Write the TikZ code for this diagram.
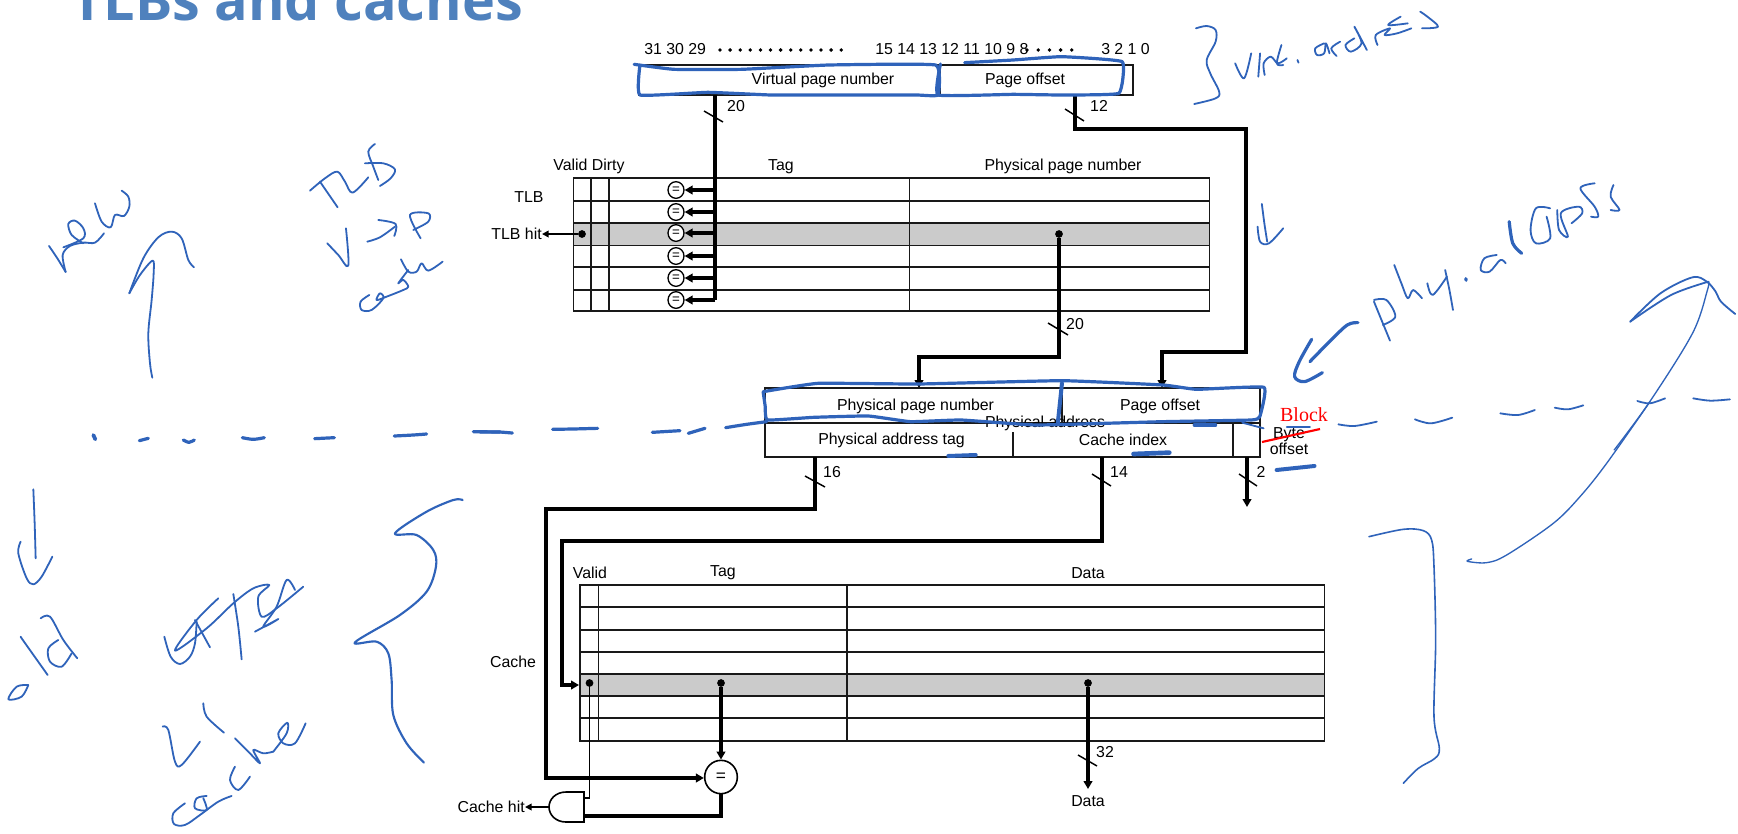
\documentclass[tikz,border=0pt]{standalone}
\usepackage{fontspec}
\setmainfont{Liberation Sans}
\newfontfamily\serifblock{Liberation Serif}
\newfontfamily\titlefont{Open Sans}
\usetikzlibrary{arrows.meta,shapes.geometric}
\definecolor{inkblue}{HTML}{2F63BA}
\definecolor{titleblue}{HTML}{4F81BD}
\definecolor{rowgray}{HTML}{CBCBCB}
\newcommand{\inkc}[2][inkline]{\draw[#1] plot[smooth,tension=0.55] coordinates {#2};}
\newcommand{\inkp}[2][inkthick]{\draw[#1] plot[smooth,tension=0.2] coordinates {#2};}
\tikzset{
  wire/.style={line width=2.7pt,line join=miter},
  wirearrow/.style={wire,-{Triangle[length=6pt,width=6.5pt]}},
  thinwire/.style={line width=1pt},
  tabline/.style={line width=1.3pt,draw=black!90},
  slash/.style={line width=1.1pt},
  lab/.style={font=\fontsize{11.9}{12}\selectfont,inner sep=0pt,text=black},
  cmp/.style={ellipse,draw=black,line width=1pt,fill=white,minimum width=12pt,minimum height=12.5pt,inner sep=0pt,font=\fontsize{10}{10}\selectfont},
  jdot/.style={circle,fill=black,inner sep=0pt,minimum size=5.8pt},
  inkline/.style={draw=inkblue,line width=1.35pt,line cap=round,line join=round},
  inkthick/.style={draw=inkblue,line width=2.4pt,line cap=round,line join=round},
  inkthin/.style={draw=inkblue,line width=1pt,line cap=round,line join=round},
}
\begin{document}
\begin{tikzpicture}[x=0.75pt,y=-0.75pt]
\path[use as bounding box,clip] (0,0) rectangle (1738,833);
\fill[white] (0,0) rectangle (1738,833);
% title
\node[anchor=base west,inner sep=0pt,text=titleblue,font=\titlefont\bfseries\fontsize{41.8}{50}\selectfont] (title) at (71,20) {TLBs and caches};
% gray rows
\fill[rowgray] (573.5,223) rectangle (1209.5,245.5);
\fill[rowgray] (580,674) rectangle (1324.5,696);
% virtual address register
\draw[tabline] (639,65) rectangle (1133,95);
\draw[tabline] (940.5,65) -- (940.5,95);
\node[lab] (vpn) at (823,80) {Virtual page number};
\node[lab] (vpo) at (1025,80) {Page offset};
\node[lab,anchor=west] (bitsa) at (644,49) {31 30 29};
\node[lab,anchor=west] (bitsb) at (875,49) {15 14 13 12 11 10 9 8};
\node[lab,anchor=west] (bitsc) at (1101,49) {3 2 1 0};
\foreach \i in {0,...,12} \fill (720+\i*10.1,50) circle (1.9);
\foreach \i in {0,...,4} \fill (1027+\i*11.2,50) circle (1.9);
% TLB
\draw[tabline] (573.5,178) rectangle (1209.5,311);
\foreach \y in {201,223,245.5,267,290} \draw[tabline] (573.5,\y) -- (1209.5,\y);
\foreach \x in {591,609,909.5} \draw[tabline] (\x,178) -- (\x,311);
\node[lab] (vdh) at (589,166) {Valid Dirty};
\node[lab] (tagh) at (781,167) {Tag};
\node[lab] (ppnh) at (1063,166) {Physical page number};
\node[lab] (tlbl) at (529,197) {TLB};
\node[lab,anchor=east] (tlbhit) at (542,234) {TLB hit};
\node[jdot] (tlbdot) at (582,234) {};
\draw[wirearrow,line width=1.4pt,-{Triangle[length=5pt,width=5pt]}] (tlbdot) -- (tlbhit.east);
\coordinate (vtop) at (715,95);
\coordinate (vbot) at (715,300);
\draw[wire] (vtop) -- (vbot);
\foreach \n/\y in {a/190,b/212,c/233,d/256,e/278,f/300}{
  \node[cmp] (c\n) at (676,\y) {=};
  \coordinate (t\n) at (715,\y);
  \draw[wirearrow] (t\n) -- (c\n);
}
\draw[slash] (704,111) -- (723,122);
\node[lab] (n20a) at (736,106) {20};
\node[jdot] (ppndot) at (1059,234) {};
\coordinate (p1) at (1059,357);
\coordinate (p2) at (919,357);
\coordinate (p3) at (919,388);
\draw[wirearrow] (ppndot) -- (p1) -- (p2) -- (p3);
\draw[slash] (1048,323) -- (1068,335);
\node[lab] (n20b) at (1075,324) {20};
\coordinate (o0) at (1075,95);
\coordinate (o1) at (1075,129);
\coordinate (o2) at (1246,129);
\coordinate (o3) at (1246,352);
\coordinate (o4) at (1162,352);
\coordinate (o5) at (1162,388);
\draw[wirearrow] (o0) -- (o1) -- (o2) -- (o3) -- (o4) -- (o5);
\draw[slash] (1065,109) -- (1084,121);
\node[lab] (n12) at (1099,106) {12};
% physical address register
\draw[tabline] (765,388) rectangle (1260,457);
\draw[tabline] (765,423) -- (1260,423);
\draw[tabline] (1062,388) -- (1062,423);
\draw[tabline] (1013,432) -- (1013,457);
\draw[tabline] (1233,423) -- (1233,457);
\node[lab] (ppn) at (915.5,406) {Physical page number};
\node[lab] (po) at (1160,406) {Page offset};
\node[lab] (pa) at (1045,423) {Physical address};
\node[lab] (pat) at (891.5,440) {Physical address tag};
\node[lab] (ci) at (1123,440) {Cache index};
\node[lab] (byte) at (1289,435) {Byte};
\node[lab] (offs) at (1289,449) {offset};
\node[font=\serifblock\fontsize{15}{16}\selectfont,text=red,inner sep=0pt] (block) at (1304,415) {Block};
\draw[red,line width=1.6pt] (1262,442) -- (1320,429);
% tag wire
\coordinate (g0) at (815,457);
\coordinate (g1) at (815,509);
\coordinate (g2) at (546,509);
\coordinate (g3) at (546,778);
\node[ellipse,draw=black,line width=1.2pt,fill=white,minimum width=24.5pt,minimum height=25pt,inner sep=0pt,font=\fontsize{13}{13}\selectfont] (eq) at (721,777) {=};
\draw[wirearrow] (g0) -- (g1) -- (g2) -- (g3) -- (eq.west|-g3);
\draw[slash] (805,476) -- (825,487);
\node[lab] (n16) at (832,472) {16};
% index wire
\coordinate (h0) at (1102,457);
\coordinate (h1) at (1102,541);
\coordinate (h2) at (562,541);
\coordinate (h3) at (562,685);
\coordinate (h4) at (579,685);
\draw[wirearrow] (h0) -- (h1) -- (h2) -- (h3) -- (h4);
\draw[slash] (1092,474) -- (1111,486);
\node[lab] (n14) at (1119,472) {14};
% block offset wire
\coordinate (k0) at (1247,457);
\coordinate (k1) at (1247,507);
\draw[wirearrow] (k0) -- (k1);
\draw[slash] (1239,474) -- (1257,486);
\node[lab] (n2) at (1261,472) {2};
% cache table
\draw[tabline] (580,585) rectangle (1324.5,741);
\foreach \y in {607,630,652,674,696,718} \draw[tabline,line width=1.5pt] (580,\y) -- (1324.5,\y);
\foreach \x in {598.5,847} \draw[tabline] (\x,585) -- (\x,741);
\node[lab] (vh) at (590,573) {Valid};
\node[lab] (ctag) at (723,573) {Tag};
\node[lab] (dath) at (1088,573) {Data};
\node[lab] (cachel) at (513,662) {Cache};
\node[jdot] (vdot) at (589.5,683) {};
\node[jdot] (tdot) at (721,683) {};
\node[jdot] (ddot) at (1088,683) {};
\coordinate (dout) at (1088,789);
\draw[wirearrow] (tdot) -- (eq.north);
\draw[wirearrow] (ddot) -- (dout);
\draw[slash] (1078,755) -- (1097,766);
\node[lab] (n32) at (1105,752) {32};
\node[lab] (dbot) at (1088,801) {Data};
% AND gate
\coordinate (andtop) at (584,798);
\coordinate (andbot) at (584,816);
\coordinate (andleft) at (549,807);
\draw[line width=1.2pt] (584,792) -- (566,792) .. controls (556,792) and (549,799) .. (andleft) .. controls (549,815) and (556,822) .. (566,822) -- (584,822) -- cycle;
\coordinate (v1) at (589.5,798);
\draw[thinwire] (vdot) -- (v1) -- (andtop);
\coordinate (e1) at (721,816);
\draw[wire] (eq.south) -- (e1) -- (andbot);
\node[lab,anchor=east] (chit) at (525,807) {Cache hit};
\draw[wire,line width=1.7pt,-{Triangle[length=5pt,width=5pt]}] (andleft) -- (chit.east);
% ---- handwriting ----
\begin{scope}[xscale=0.3333,yscale=0.3333]
\inkc{(147,738)(172,775)(197,816)}
\inkc{(197,816)(188,765)(210,738)(250,728)(285,728)(312,700)}
\inkc{(190,742)(250,715)(250,685)(225,662)(205,672)(215,705)(250,730)}
\inkc{(285,610)(305,665)(332,682)(345,645)(372,648)(388,620)(385,590)(365,572)}
\inkc{(457,1133)(450,1090)(445,1000)(455,900)(461,820)(458,782)(420,825)(388,880)}
\inkc{(388,880)(430,775)(475,712)(515,695)(545,715)(565,780)(582,802)}
\inkc{(930,572)(975,535)(1012,515)(1035,545)(1058,578)(1105,532)}
\inkc{(960,545)(1013,622)}
\inkc{(1125,432)(1105,455)(1120,500)(1135,540)}
\inkc{(1095,490)(1150,490)(1185,508)(1172,535)(1140,558)}
\inkc{(982,730)(1015,765)(1045,797)(1038,685)}
\inkc{(1102,725)(1140,712)(1185,680)}
\inkc{(1135,660)(1187,672)(1183,708)}
\inkc{(1262,715)(1230,645)(1285,640)(1285,665)(1240,690)}
\inkc{(1108,885)(1082,905)(1085,930)(1115,930)(1150,895)(1140,880)(1130,900)(1160,890)(1210,870)(1225,860)(1210,840)(1195,850)(1225,810)}
\inkc{(1203,778)(1225,815)(1250,815)(1265,790)(1285,812)(1328,785)}
\end{scope}
\begin{scope}[shift={(0,440)},xscale=0.3333,yscale=0.3333]
\inkc{(100,148)(104,250)(107,355)}
\inkc{(62,305)(55,340)(80,415)(100,433)(125,410)(157,350)}
\inkc{(85,735)(50,740)(25,778)(65,770)(85,735)}
\inkc{(62,590)(72,605)(143,705)}
\inkc{(122,535)(150,530)(190,600)(232,655)}
\inkc{(175,600)(145,625)(150,665)(185,680)(215,640)}
\inkc{(493,590)(512,650)(540,672)(570,650)(585,610)(590,545)}
\inkc{(655,475)(590,540)(525,632)(620,565)(700,490)(760,445)(808,435)(775,470)(785,530)(830,505)(910,440)}
\inkc{(585,540)(630,622)}
\inkc{(700,462)(715,560)(725,658)}
\inkc{(765,575)(835,537)(790,560)(830,500)(860,420)(885,450)}
\inkc{(488,860)(505,870)(525,965)(545,975)(600,905)}
\inkc{(610,790)(620,830)(672,878)}
\inkc{(555,1090)(520,1120)(522,1152)(555,1155)(600,1125)(655,1085)(695,1068)}
\inkc{(620,1068)(590,1075)(585,1105)(620,1110)(610,1075)}
\inkc{(705,980)(690,1020)(715,1050)(750,1010)}
\inkc{(705,895)(745,935)(780,970)(760,930)(790,940)(820,935)}
\inkc{(820,935)(860,880)(862,848)(835,880)(850,910)(885,910)(917,850)}
\inkc[inkline,line width=1.6pt]{(1388,180)(1360,180)(1280,215)(1185,280)(1250,285)(1300,330)(1308,380)(1280,455)(1200,525)(1065,607)(1130,605)(1165,640)(1175,720)(1180,825)(1220,910)(1272,968)}
\end{scope}
\begin{scope}[shift={(1180,0)},xscale=0.3559,yscale=0.3333]
\inkc{(45,85)(75,78)(100,90)(100,125)(75,180)(85,220)(110,275)(100,295)(40,312)}
\inkc{(155,190)(180,235)(200,160)}
\inkc{(225,160)(220,230)}
\inkc{(238,225)(235,190)(255,170)(275,190)(300,175)}
\inkc{(285,135)(272,190)(290,195)}
\inkc{(330,180)(333,188)}
\inkc{(405,130)(380,145)(385,165)(405,160)(410,130)(420,160)}
\inkc{(450,125)(425,145)(440,168)}
\inkc{(490,115)(465,135)(480,155)(510,130)(490,80)(525,150)}
\inkc{(555,135)(550,105)(590,85)(575,105)(610,100)(650,85)}
\inkc{(620,50)(585,75)(640,70)}
\inkc{(675,35)(695,50)(725,80)(680,85)}
\inkc{(230,612)(237,670)(245,725)}
\inkc{(218,680)(225,725)(250,730)(290,685)}
\inkc[inkthick]{(500,968)(470,975)(420,1025)(365,1085)}
\inkc[inkthick]{(370,1018)(335,1085)(322,1130)(350,1145)(400,1118)}
\inkc{(545,905)(568,965)(590,1022)}
\inkc{(545,900)(580,900)(605,950)(570,975)}
\inkc{(602,795)(622,850)(640,895)(655,870)(680,895)}
\inkc{(695,850)(710,885)(750,830)}
\inkc{(745,810)(757,870)(767,930)}
\inkc[inkthick]{(803,836)(804,841)}
\inkc{(890,765)(855,775)(845,810)(870,815)(900,780)(915,790)}
\inkc[inkthick]{(925,665)(935,730)(960,760)}
\inkc{(1040,625)(1000,625)(985,690)(1000,730)(1040,715)(1030,650)}
\inkc{(1060,630)(1065,690)(1090,710)(1070,640)(1120,620)(1130,640)(1100,670)}
\inkc{(1165,550)(1125,565)(1165,620)(1175,650)(1155,650)}
\inkc{(1218,555)(1210,590)(1235,630)(1210,630)}
\inkc[inkthin]{(1220,1350)(1320,1205)(1440,1000)(1482,870)(1485,845)}
\inkc{(1265,965)(1350,880)(1440,832)(1480,845)(1505,875)(1520,905)(1560,942)}
\inkc{(1265,965)(1380,885)(1485,845)}
\end{scope}
\begin{scope}[shift={(1340,400)},xscale=0.3333,yscale=0.3333]
\inkc[inkthin]{(395,477)(382,484)(440,488)(500,465)(640,370)(720,290)(800,190)(930,5)}
\inkc[inkthin,line width=1.2pt]{(87,410)(190,388)(250,392)(275,420)(282,500)(287,720)(282,950)(298,1045)(285,1075)(235,1105)(190,1150)}
\end{scope}
% register outlines
\begin{scope}[shift={(480,0)},xscale=0.4847,yscale=0.3333]
\inkp{(318,193)(400,208)(540,208)(720,195)(940,195)(945,285)(900,285)(740,285)(600,285)(470,277)(330,285)(330,195)}
\inkp{(950,192)(945,285)(1100,283)(1200,285)(1318,280)(1325,185)(1200,170)(1100,180)(1000,188)}
\end{scope}
\begin{scope}[shift={(700,330)},xscale=0.4209,yscale=0.3333]
\inkp{(150,185)(280,160)(520,162)(860,152)(1100,165)(1180,178)(1340,172)(1330,260)(1310,270)(1100,275)(800,285)(620,270)(500,275)(400,258)(270,262)(160,270)(155,230)(150,185)}
\draw[inkthick,line width=3pt] (860,160) -- (850,280);
\draw[inkthick,line width=3pt] (590,378) -- (655,375);
\draw[inkthick,line width=3.5pt] (1030,372) -- (1115,368);
\draw[inkthick,line width=3pt] (1370,420) -- (1460,408);
\end{scope}
% dashed stroke
\begin{scope}[shift={(80,400)},xscale=0.3333,yscale=0.3333]
\draw[inkthick,line width=2.8pt] (40,105) -- (46,118);
\draw[inkthick] (178,122) -- (205,115);
\inkc[inkthick]{(310,120)(327,127)(343,120)}
\inkc[inkthick]{(487,113)(520,118)(553,113)}
\draw[inkthick] (704,116) -- (763,113);
\inkc[inkthick]{(943,108)(1000,105)(1040,102)}
\draw[inkthick] (1180,95) -- (1260,96);
\end{scope}
\begin{scope}[shift={(480,400)},xscale=0.3333,yscale=0.3333]
\draw[inkthick] (0,96) -- (60,96) -- (97,99);
\draw[inkthick] (218,88) -- (280,87) -- (353,85);
\draw[inkthick] (517,97) -- (600,92);
\draw[inkthick] (625,100) -- (675,85);
\inkc[inkthick]{(737,83)(800,73)(860,65)}
\end{scope}
\begin{scope}[shift={(1180,370)},xscale=0.3559,yscale=0.3333]
\draw[inkthick] (40,165) -- (100,165);
\draw[inkline] (175,158) -- (235,175);
\draw[inkline] (300,172) -- (365,172);
\inkc{(445,163)(490,168)(553,155)}
\inkc{(660,148)(705,160)(765,143)}
\inkc{(900,130)(950,135)(997,120)}
\inkc{(1053,113)(1090,118)(1133,106)}
\inkc{(1285,93)(1320,100)(1363,85)}
\inkc{(1442,85)(1490,92)(1545,88)}
\end{scope}
\end{tikzpicture}
\end{document}
